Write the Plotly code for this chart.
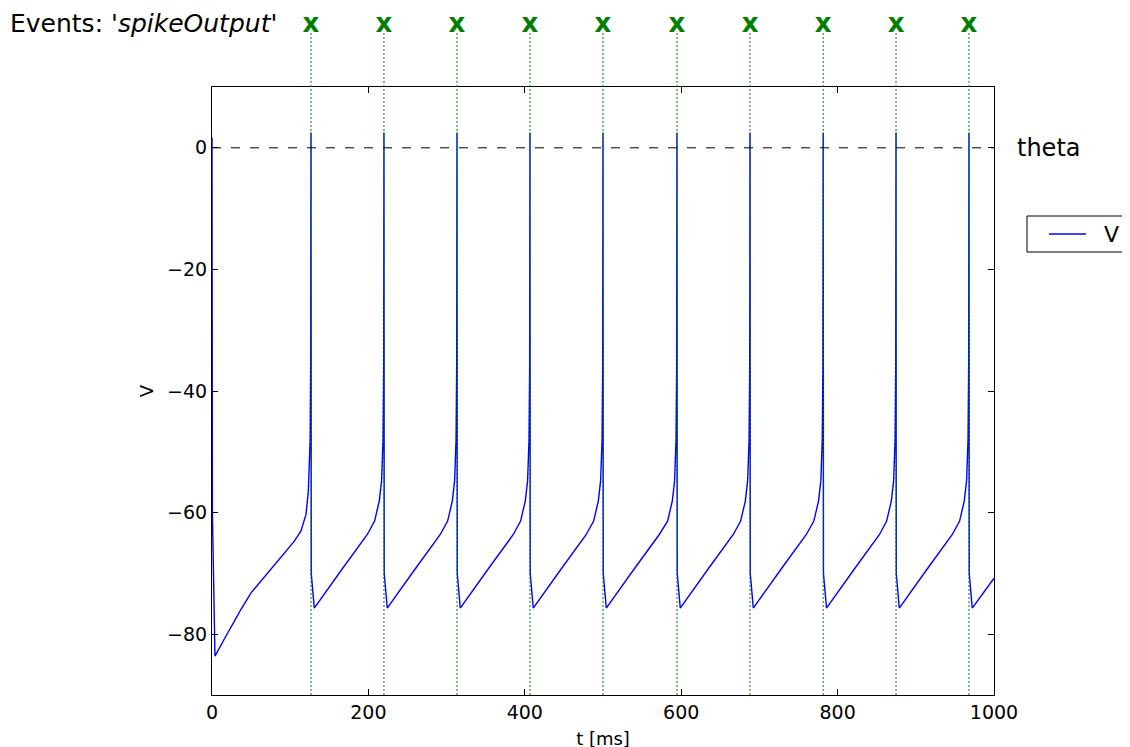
import plotly.graph_objects as go

# ---- data ----
spike_times = [126.6, 219.9, 313.3, 406.6, 500.0, 594.6, 688.0, 781.6, 874.7, 968.0]
theta = 0.0

t_ms = [
    0.0, 0.5, 3.8, 11.5, 20.0, 28.5, 37.1, 49.9, 71.2, 92.5, 105.3, 113.8, 120.2, 123.2, 125.5, 126.2, 126.6,
    126.9, 130.8, 164.6, 198.6, 207.9, 213.9, 216.9, 218.7, 219.5, 219.9,
    220.2, 224.1, 257.9, 291.9, 301.3, 307.3, 310.3, 312.1, 312.9, 313.3,
    313.6, 317.5, 351.3, 385.3, 394.6, 400.6, 403.6, 405.4, 406.2, 406.6,
    406.9, 410.8, 444.6, 478.6, 488.0, 494.0, 497.0, 498.8, 499.6, 500.0,
    500.3, 504.2, 538.0, 572.0, 582.6, 588.6, 591.6, 593.4, 594.2, 594.6,
    594.9, 598.8, 632.6, 666.6, 676.0, 682.0, 685.0, 686.8, 687.6, 688.0,
    688.3, 692.2, 726.0, 760.0, 769.6, 775.6, 778.6, 780.4, 781.2, 781.6,
    781.9, 785.8, 819.6, 853.6, 862.7, 868.7, 871.7, 873.5, 874.3, 874.7,
    875.0, 878.9, 912.7, 946.7, 956.0, 962.0, 965.0, 966.8, 967.6, 968.0,
    968.3, 972.2, 1000.0,
]
v_mV = [
    1.7, -60.0, -83.6, -81.7, -79.8, -77.9, -75.9, -73.2, -69.9, -66.6, -64.7, -63.0, -60.3, -56.5, -48.0, -35.0, 2.5,
    -70.0, -75.7, -69.6, -63.6, -61.4, -58.1, -54.7, -48.0, -36.0, 2.5,
    -70.0, -75.7, -69.6, -63.6, -61.4, -58.1, -54.7, -48.0, -36.0, 2.5,
    -70.0, -75.7, -69.6, -63.6, -61.4, -58.1, -54.7, -48.0, -36.0, 2.5,
    -70.0, -75.7, -69.6, -63.6, -61.4, -58.1, -54.7, -48.0, -36.0, 2.5,
    -70.0, -75.7, -69.6, -63.6, -61.4, -58.1, -54.7, -48.0, -36.0, 2.5,
    -70.0, -75.7, -69.6, -63.6, -61.4, -58.1, -54.7, -48.0, -36.0, 2.5,
    -70.0, -75.7, -69.6, -63.6, -61.4, -58.1, -54.7, -48.0, -36.0, 2.5,
    -70.0, -75.7, -69.6, -63.6, -61.4, -58.1, -54.7, -48.0, -36.0, 2.5,
    -70.0, -75.7, -69.6, -63.6, -61.4, -58.1, -54.7, -48.0, -36.0, 2.5,
    -70.0, -75.7, -70.8,
]
event_row = [0.5] * len(spike_times)

x_ticks = [0, 200, 400, 600, 800, 1000]
y_ticks = [-80, -60, -40, -20, 0]

FONT = "DejaVu Sans"
GREEN = "#008000"
BLUE = "#0000ff"

# figure-pixel geometry (page body adds ~7px offset)
H = 747
B = 60
PLOT_H = 608
AVAIL = H - B  # top margin 0
main_top = PLOT_H / AVAIL

fig = go.Figure()
fig.add_trace(go.Scatter(x=t_ms, y=v_mV, mode="lines", name="V", showlegend=False,
                         line=dict(color=BLUE, width=1.4)))

# event markers in a thin strip above the plot, sharing the time axis
fig.add_trace(go.Scatter(x=spike_times, y=event_row, mode="text", text=["x"] * len(spike_times),
                         textposition="middle center", showlegend=False, cliponaxis=False,
                         textfont=dict(family=FONT, size=26, color=GREEN, weight="bold"),
                         xaxis="x2", yaxis="y2", hoverinfo="skip"))

# threshold line
fig.add_shape(type="line", xref="paper", yref="y", x0=0, x1=1, y0=theta, y1=theta,
              line=dict(color="black", width=1, dash="9px,10px"), layer="above")
fig.add_annotation(xref="paper", yref="y", x=1.027, y=theta, text="theta",
                   showarrow=False, xanchor="left", yanchor="middle",
                   font=dict(family=FONT, size=24, color="black"))

# spike event lines
line_top = (AVAIL - 24) / AVAIL
for s in spike_times:
    fig.add_shape(type="line", xref="x", yref="paper", x0=s, x1=s, y0=0, y1=line_top,
                  line=dict(color=GREEN, width=1, dash="2px,2px"), layer="above")

fig.add_annotation(xref="paper", yref="paper", x=-0.259, y=1.0,
                   text="Events: '<i>spikeOutput</i>'", showarrow=False,
                   xanchor="left", yanchor="top", borderpad=0,
                   font=dict(family=FONT, size=25, color="black"))

# legend box (drawn in paper coordinates, partly outside the page like the reference)
def py(v):
    return (AVAIL - (v - 7)) / AVAIL

fig.add_shape(type="rect", xref="paper", yref="paper", x0=1.0422, x1=1.19, y0=py(251), y1=py(215),
              line=dict(color="black", width=1), fillcolor="white", layer="above")
fig.add_shape(type="line", xref="paper", yref="paper", x0=1.0703, x1=1.1176, y0=py(233), y1=py(233),
              line=dict(color=BLUE, width=1.4), layer="above")
fig.add_annotation(xref="paper", yref="paper", x=1.138, y=py(233), text="V",
                   showarrow=False, xanchor="left", yanchor="middle",
                   font=dict(family=FONT, size=22, color="black"))

axis_common = dict(showline=True, linecolor="black", linewidth=1.2, mirror="ticks",
                   ticks="inside", ticklen=6, tickwidth=1, tickcolor="black",
                   showgrid=False, zeroline=False,
                   tickfont=dict(family=FONT, size=19, color="black"))

fig.update_layout(
    xaxis=dict(range=[0, 1000], tickvals=x_ticks, ticktext=[str(v) for v in x_ticks],
               title=dict(text="t [ms]", font=dict(family=FONT, size=18, color="black"),
                          standoff=10),
               anchor="y", **axis_common),
    yaxis=dict(range=[-90, 10], domain=[0, main_top], tickvals=y_ticks,
               ticktext=[("\u2212" + str(-v)) if v < 0 else str(v) for v in y_ticks],
               title=dict(text="V", font=dict(family=FONT, size=18, color="black"),
                          standoff=8),
               anchor="x", **axis_common),
    xaxis2=dict(matches="x", anchor="y2", visible=False, range=[0, 1000]),
    yaxis2=dict(domain=[(AVAIL - 34) / AVAIL, 1.0], range=[0, 1], visible=False,
                anchor="x2"),
    width=1130, height=H,
    margin=dict(l=204, r=144, t=0, b=B),
    paper_bgcolor="white", plot_bgcolor="white",
    font=dict(family=FONT, color="black"),
    showlegend=False,
)

fig.write_html("out.html", config={"displayModeBar": False})
